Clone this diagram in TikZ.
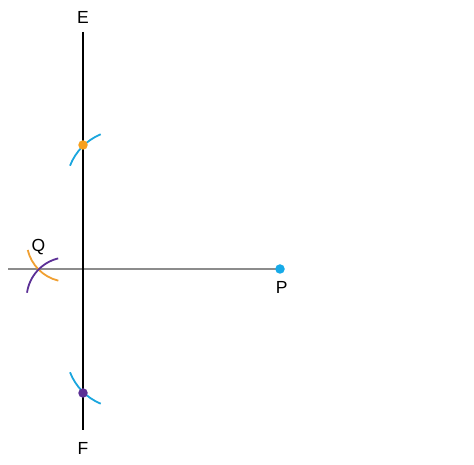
\documentclass[tikz,border=0pt]{standalone}
\usepackage{fontspec}
\setmainfont{Liberation Sans}
\definecolor{arccyan}{RGB}{27,166,222}
\definecolor{dotcyan}{RGB}{22,170,232}
\definecolor{arcorange}{RGB}{240,160,50}
\definecolor{dotorange}{RGB}{247,160,30}
\definecolor{arcpurple}{RGB}{92,48,150}
\definecolor{linegray}{RGB}{140,140,140}

\begin{document}
\begin{tikzpicture} [x=1pt,y=1pt,
  dot/.style={circle, inner sep=0, minimum size=9.5pt},
  lbl/.style={inner sep=0, font=\fontsize{17.5}{17.5}\selectfont}]
\useasboundingbox (0,0) rectangle (474,465);
% points of the construction
\coordinate (Etop) at (83,433);
\coordinate (Fbot) at (83,35);
\coordinate (L) at (8,196);
\coordinate (P) at (280,196);
\coordinate (U) at (83,320);
\coordinate (D) at (83,72);
% centres of the arcs
\coordinate (cU) at (122.2,279);
\coordinate (cD) at (122.2,113);
\coordinate (cQu) at (68,224.6);
\coordinate (cQd) at (68,166.4);
% lines
\draw[linegray, line width=1.4pt] (L)--(P);
\draw[black, line width=1.8pt] (Etop)--(Fbot);
% arcs cutting EF
\draw[arccyan, line width=1.8pt] ([shift=(158.7:56)]cU) arc (158.7:112.6:56);
\draw[arccyan, line width=1.8pt] ([shift=(201.3:56)]cD) arc (201.3:247.4:56);
% arcs meeting at Q
\draw[arcorange, line width=1.8pt] ([shift=(193.4:41.4)]cQu) arc (193.4:256.5:41.4);
\draw[arcpurple, line width=1.8pt] ([shift=(171.8:41.4)]cQd) arc (171.8:103.7:41.4);
% dots
\node[dot, fill=dotcyan] (p) at (P) {};
\node[dot, fill=dotorange] (u) at (U) {};
\node[dot, fill=arcpurple] (d) at (D) {};
% labels
\node[lbl] (e) at (83,447.5) {E};
\node[lbl] (f) at (83,17) {F};
\node[lbl] (q) at (38.5,218) {Q};
\node[lbl] (plabel) at (281.7,177.5) {P};
\end{tikzpicture}
\end{document}
